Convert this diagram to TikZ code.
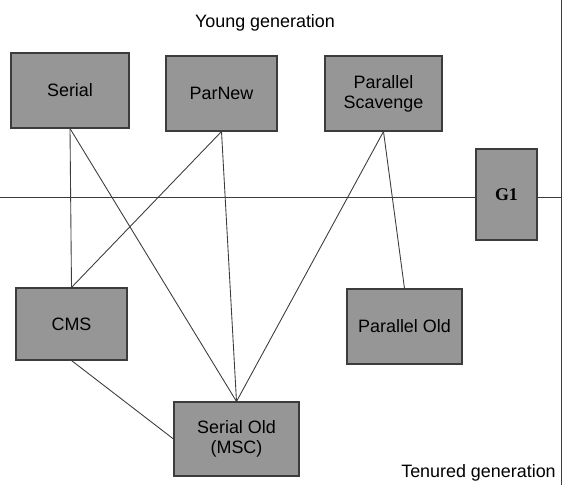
\documentclass[tikz,border=0pt]{standalone}
\usepackage{fontspec}
\setmainfont{Liberation Sans}
\newfontfamily\gonefont{Liberation Serif}
\usepackage{tikz}
\definecolor{gcgray}{RGB}{150,150,150}
\definecolor{gcline}{RGB}{60,60,60}

\begin{document}
\begin{tikzpicture}[
	gcbox/.style={draw=gcline, line width=0.6pt, fill=gcgray, align=center, inner sep=0pt, font=\fontsize{10.2}{11.5}\selectfont},
	gclink/.style={draw=gcline, line width=0.5pt}]
	\useasboundingbox (0,0) rectangle (11.34,9.7);

	\draw[gclink] (0,5.76) - - (11.22,5.76);
	\draw[gclink] (11.22,0) - - (11.22,9.7);

	\node[gcbox, minimum width=2.36cm, minimum height=1.5cm] (serial) at (1.40,7.89) {Serial};
	\node[gcbox, minimum width=2.22cm, minimum height=1.5cm] (parnew) at (4.43,7.83) {ParNew};
	\node[gcbox, minimum width=2.34cm, minimum height=1.5cm] (scavenge) at (7.67,7.83) {Parallel\\Scavenge};
	\node[gcbox, minimum width=1.22cm, minimum height=1.82cm, font=\gonefont\bfseries\fontsize{10.2}{11.5}\selectfont] (gone) at (10.13,5.81) {G1};
	\node[gcbox, minimum width=2.22cm, minimum height=1.44cm] (cms) at (1.43,3.22) {CMS};
	\node[gcbox, minimum width=2.30cm, minimum height=1.5cm] (parold) at (8.09,3.17) {Parallel Old};
	\node[gcbox, minimum width=2.50cm, minimum height=1.48cm] (serialold) at (4.73,0.92) {Serial Old\\(MSC)};

	\draw[gclink] (serial.south) - - (cms.north);
	\draw[gclink] (serial.south) - - (serialold.north);
	\draw[gclink] (parnew.south) - - (cms.north);
	\draw[gclink] (parnew.south) - - (serialold.north);
	\draw[gclink] (scavenge.south) - - (serialold.north);
	\draw[gclink] (scavenge.south) - - (parold.north);
	\draw[gclink] (cms.south) - - (serialold.west);

	\node[font=\fontsize{10.2}{12}\selectfont] (young) at (5.30,9.24) {Young generation};
	\node[font=\fontsize{10.2}{12}\selectfont] (tenured) at (9.57,0.24) {Tenured generation};
\end{tikzpicture}
\end{document}
